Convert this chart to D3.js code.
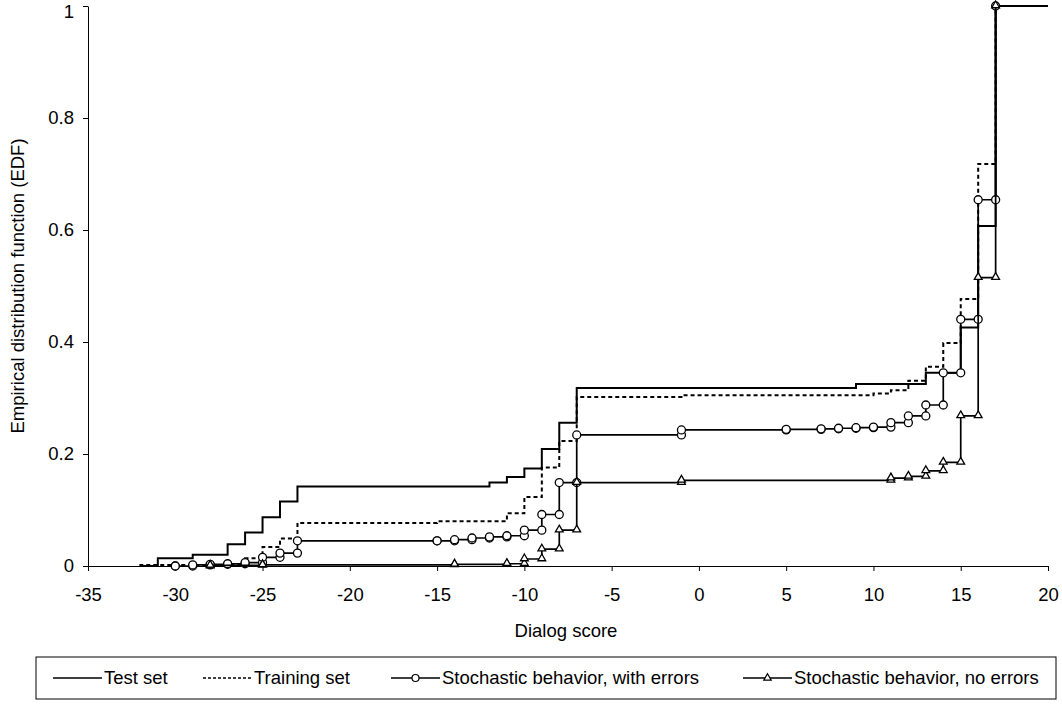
<!DOCTYPE html>
<html>
<head>
<meta charset="utf-8">
<script src="https://cdn.jsdelivr.net/npm/d3@7"></script>
<style>
  body { margin: 0; background: #fff; }
  text { font-family: "Liberation Sans", Arial, sans-serif; font-size: 18.5px; fill: #000; }
</style>
</head>
<body>
<script>
// tick values
var xTicks = [-35, -30, -25, -20, -15, -10, -5, 0, 5, 10, 15, 20];
var yTicks = [0, 0.2, 0.4, 0.6, 0.8, 1];

// test set (step positions, level after step)
var testX = [-32, -31, -29, -27, -26, -25, -24, -23, -12, -11, -10, -9, -8, -7, 9, 13, 15, 16, 17, 20];
var testF = [0, 0.014, 0.020, 0.039, 0.060, 0.087, 0.115, 0.142, 0.149, 0.159, 0.174, 0.209, 0.256, 0.318, 0.325, 0.345, 0.426, 0.607, 1, 1];

// training set
var trainX = [-32, -26, -25, -24, -23, -15, -11, -10, -9, -8, -7, -1, 10, 11, 12, 13, 14, 15, 16, 17, 20];
var trainF = [0.002, 0.014, 0.034, 0.049, 0.077, 0.080, 0.094, 0.123, 0.176, 0.223, 0.302, 0.305, 0.308, 0.314, 0.331, 0.356, 0.398, 0.477, 0.718, 1, 1];

// stochastic behavior, with errors
var withErrX = [-30, -29, -28, -27, -26, -25, -24, -23, -15, -14, -13, -12, -11, -10, -9, -8, -7, -1, 5, 7, 8, 9, 10, 11, 12, 13, 14, 15, 16, 17];
var withErrF = [0, 0.002, 0.003, 0.004, 0.006, 0.0155, 0.023, 0.045, 0.045, 0.047, 0.050, 0.052, 0.054, 0.064, 0.092, 0.149, 0.234, 0.243, 0.244, 0.245, 0.246, 0.247, 0.248, 0.256, 0.268, 0.2875, 0.345, 0.4405, 0.654, 1];

// stochastic behavior, no errors
var noErrX = [-28, -25, -14, -11, -10, -9, -8, -7, -1, 11, 12, 13, 14, 15, 16, 17];
var noErrF = [0.001, 0.002, 0.003, 0.004, 0.0125, 0.030, 0.064, 0.149, 0.153, 0.157, 0.160, 0.170, 0.185, 0.268, 0.515, 1];

var legendLabels = ["Test set", "Training set", "Stochastic behavior, with errors", "Stochastic behavior, no errors"];

var width = 1062, height = 715;
var svg = d3.select("body").append("svg")
    .attr("width", width)
    .attr("height", height);

var x = d3.scaleLinear().domain([-35, 20]).range([88, 1048]);
var y = d3.scaleLinear().domain([0, 1]).range([566, 6]);

// every jump becomes two points: old level, new level
function stepPoints(xs, fs) {
  var pts = [];
  for (var i = 0; i < xs.length; i++) {
    var prev = i > 0 ? fs[i - 1] : 0;
    pts.push([xs[i], prev]);
    pts.push([xs[i], fs[i]]);
  }
  return pts;
}

var line = d3.line()
    .x(function(d) { return x(d[0]); })
    .y(function(d) { return y(d[1]); });

// axes
svg.append("g")
    .attr("transform", "translate(88,0)")
    .call(d3.axisLeft(y).tickValues(yTicks).tickSize(5).tickSizeOuter(0).tickPadding(9)
      .tickFormat(function(d) { return String(d); }));
svg.append("g")
    .attr("transform", "translate(0,566)")
    .call(d3.axisBottom(x).tickValues(xTicks).tickSize(5).tickSizeOuter(0).tickPadding(17)
      .tickFormat(function(d) { return String(d); }));
svg.selectAll("g.tick text").attr("font-family", null).attr("font-size", null);
svg.selectAll(".domain, .tick line").attr("stroke", "#000");
// keep the top label inside the page
svg.selectAll("g.tick text").filter(function(d) { return d === 1; }).attr("dy", "0.6em");

svg.append("text")
    .attr("transform", "translate(18,286) rotate(-90)")
    .attr("text-anchor", "middle")
    .attr("dy", "0.35em")
    .text("Empirical distribution function (EDF)");

svg.append("text")
    .attr("x", 566)
    .attr("y", 637)
    .attr("text-anchor", "middle")
    .text("Dialog score");

var plot = svg.append("g");

plot.append("path")
    .attr("d", line(stepPoints(testX, testF)))
    .attr("fill", "none").attr("stroke", "#000").attr("stroke-width", 2);

plot.append("path")
    .attr("d", line(stepPoints(trainX, trainF)))
    .attr("fill", "none").attr("stroke", "#000").attr("stroke-width", 2)
    .attr("stroke-dasharray", "4,3");

var withPts = stepPoints(withErrX, withErrF);
plot.append("path")
    .attr("d", line(withPts))
    .attr("fill", "none").attr("stroke", "#000").attr("stroke-width", 1.7);
plot.selectAll("circle.m")
    .data(withPts)
  .enter().append("circle")
    .attr("class", "m")
    .attr("cx", function(d) { return x(d[0]); })
    .attr("cy", function(d) { return y(d[1]); })
    .attr("r", 4)
    .attr("fill", "#fff").attr("stroke", "#000").attr("stroke-width", 1.3);

var tri = d3.symbol().type(d3.symbolTriangle).size(26);
var noPts = stepPoints(noErrX, noErrF);
plot.append("path")
    .attr("d", line(noPts))
    .attr("fill", "none").attr("stroke", "#000").attr("stroke-width", 1.7);
plot.selectAll("path.t")
    .data(noPts)
  .enter().append("path")
    .attr("class", "t")
    .attr("d", tri)
    .attr("transform", function(d) { return "translate(" + x(d[0]) + "," + (y(d[1]) - 0.5) + ")"; })
    .attr("fill", "#fff").attr("stroke", "#000").attr("stroke-width", 1.3);

// legend
var legend = svg.append("g");
legend.append("rect")
    .attr("x", 36).attr("y", 657)
    .attr("width", 1020).attr("height", 42)
    .attr("fill", "#fff").attr("stroke", "#000").attr("stroke-width", 1);

var legX = [53, 203, 391, 743];
var legY = 678;
legendLabels.forEach(function(lab, i) {
  var g = legend.append("g").attr("transform", "translate(" + legX[i] + "," + legY + ")");
  var l = g.append("line").attr("x1", 0).attr("x2", 49).attr("y1", 0).attr("y2", 0)
      .attr("stroke", "#000").attr("stroke-width", 1.6);
  if (i === 1) l.attr("stroke-dasharray", "3,2");
  if (i === 2) g.append("circle").attr("cx", 24.5).attr("r", 3.5)
      .attr("fill", "#fff").attr("stroke", "#000").attr("stroke-width", 1.2);
  if (i === 3) g.append("path").attr("d", d3.symbol().type(d3.symbolTriangle).size(24))
      .attr("transform", "translate(24.5,0)")
      .attr("fill", "#fff").attr("stroke", "#000").attr("stroke-width", 1.2);
  g.append("text").attr("x", 51).attr("dy", "0.35em").text(lab);
});
</script>
</body>
</html>
